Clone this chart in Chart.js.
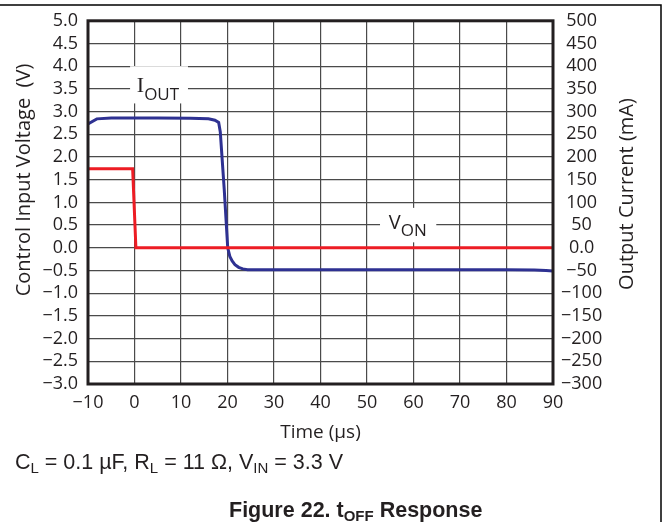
<!DOCTYPE html>
<html lang="en">
<head>
<meta charset="utf-8">
<title>tOFF Response</title>
<script src="https://cdn.jsdelivr.net/npm/chart.js"></script>
<style>
	html, body { margin: 0; padding: 0; background: #fff; }
	#wrap { width: 669px; height: 522px; }
</style>
</head>
<body>
<div id="wrap"><canvas id="myChart" width="669" height="522"></canvas></div>

<script>
// tick labels
const timeLabels = ['\u221210', '0', '10', '20', '30', '40', '50', '60', '70', '80', '90'];
const voltLabels = ['\u22123.0', '\u22122.5', '\u22122.0', '\u22121.5', '\u22121.0', '\u22120.5',
	'0.0', '0.5', '1.0', '1.5', '2.0', '2.5', '3.0', '3.5', '4.0', '4.5', '5.0'];
const currLabels = ['\u2212300', '\u2212250', '\u2212200', '\u2212150', '\u2212100', '\u221250',
	'0.0', '50', '100', '150', '200', '250', '300', '350', '400', '450', '500'];

// V_ON, control input voltage (V)
const vonTime = [-10, -0.4, 0.3, 90];
const vonVolt = [1.74, 1.74, 0, 0];

// I_OUT, output current (mA)
const ioutTime = [-10, -8.1, -5, 5, 12, 15.9, 17.3, 18.1, 18.45, 19.3, 20.05, 20.5, 21, 21.6, 22.4, 23.3, 24.3, 40, 60, 80, 86, 88.5, 90];
const ioutCurr = [273, 284, 286, 286, 285.5, 284, 281, 276, 255, 128, 0, -19, -29, -37, -43, -46.5, -48.5, -48.5, -48.5, -48.5, -49, -50, -51];

const vonPoints = vonTime.map((t, i) => ({ x: t, y: vonVolt[i] }));
const ioutPoints = ioutTime.map((t, i) => ({ x: t, y: ioutCurr[i] }));

const INK = '#231f20';
const TICK_FONT = { family: 'Open Sans', size: 18 };

// text with a subscript part
function subText(ctx, x, y, parts) {
	parts.forEach(p => {
		ctx.font = p.font;
		ctx.fillText(p.text, x, y + (p.dy || 0));
		x += ctx.measureText(p.text).width;
	});
	return x;
}

function vertText(ctx, text, x, y) {
	ctx.save();
	ctx.translate(x, y);
	ctx.rotate(-Math.PI / 2);
	ctx.font = '20px "Open Sans"';
	ctx.textAlign = 'center';
	ctx.textBaseline = 'middle';
	ctx.fillText(text, 0, 0);
	ctx.restore();
}

const decor = {
	id: 'decor',
	beforeDatasetsDraw(chart) {
		const ctx = chart.ctx;
		const xs = chart.scales.x, ys = chart.scales.y;
		ctx.save();
		ctx.fillStyle = '#fff';
		// I_OUT label box
		let bx = xs.getPixelForValue(-0.95), by = ys.getPixelForValue(4.0);
		ctx.fillRect(bx, by, xs.getPixelForValue(11.5) - bx, ys.getPixelForValue(3.18) - by);
		// V_ON label box
		bx = xs.getPixelForValue(52.8); by = ys.getPixelForValue(0.88);
		ctx.fillRect(bx, by, xs.getPixelForValue(64.9) - bx, ys.getPixelForValue(0.12) - by);

		ctx.fillStyle = INK;
		ctx.textBaseline = 'alphabetic';
		ctx.textAlign = 'left';
		subText(ctx, xs.getPixelForValue(0.5), ys.getPixelForValue(3.43), [
			{ text: 'I', font: '22px "Liberation Serif"' },
			{ text: 'OUT', font: '17px "Open Sans"', dy: 7.5 }
		]);
		subText(ctx, xs.getPixelForValue(54.7), ys.getPixelForValue(0.42), [
			{ text: 'V', font: '20px "Open Sans"' },
			{ text: 'ON', font: '17px "Open Sans"', dy: 7 }
		]);
		ctx.restore();
	},
	afterDatasetsDraw(chart) {
		const ctx = chart.ctx, a = chart.chartArea;
		ctx.save();
		ctx.strokeStyle = INK;
		ctx.lineWidth = 3;
		ctx.strokeRect(a.left, a.top, a.right - a.left, a.bottom - a.top);
		ctx.restore();
	},
	afterDraw(chart) {
		const ctx = chart.ctx;
		ctx.save();
		// page frame
		ctx.strokeStyle = '#000';
		ctx.lineWidth = 1.5;
		ctx.beginPath();
		ctx.moveTo(0, 5);
		ctx.lineTo(661, 5);
		ctx.lineTo(661, 522);
		ctx.stroke();

		ctx.fillStyle = INK;
		// axis titles, both read bottom to top
		vertText(ctx, 'Control Input Voltage  (V)', 24, 180);
		vertText(ctx, 'Output Current (mA)', 627, 194);

		ctx.textAlign = 'left';
		ctx.textBaseline = 'alphabetic';
		const f = '21.5px "Liberation Sans"', fs = '15px "Liberation Sans"';
		subText(ctx, 15, 469, [
			{ text: 'C', font: f }, { text: 'L', font: fs, dy: 4 },
			{ text: ' = 0.1 \u00b5F, R', font: f }, { text: 'L', font: fs, dy: 4 },
			{ text: ' = 11 \u03a9, V', font: f }, { text: 'IN', font: fs, dy: 4 },
			{ text: ' = 3.3 V', font: f }
		]);
		const fb = 'bold 21.5px "Liberation Sans"', fbs = 'bold 15px "Liberation Sans"';
		subText(ctx, 229, 517, [
			{ text: 'Figure 22. t', font: fb }, { text: 'OFF', font: fbs, dy: 4 },
			{ text: ' Response', font: fb }
		]);
		ctx.restore();
	}
};

const grid = { color: '#4a4a4a', lineWidth: 1.2, drawTicks: false };

const config = {
	type: 'line',
	data: {
		datasets: [
			{
				label: 'VON',
				data: vonPoints,
				yAxisID: 'y',
				borderColor: '#ed1c24',
				borderWidth: 3,
				pointRadius: 0,
				tension: 0
			},
			{
				label: 'IOUT',
				data: ioutPoints,
				yAxisID: 'y2',
				borderColor: '#2e3192',
				borderWidth: 3,
				pointRadius: 0,
				tension: 0
			}
		]
	},
	options: {
		responsive: false,
		animation: false,
		layout: { padding: { top: 20, left: 0, right: 0, bottom: 0 } },
		plugins: { legend: { display: false }, tooltip: { enabled: false } },
		scales: {
			x: {
				type: 'linear',
				min: -10,
				max: 90,
				grid: grid,
				border: { display: false },
				ticks: {
					stepSize: 10,
					color: INK,
					font: TICK_FONT,
					padding: 8,
					maxRotation: 0,
					autoSkip: false,
					callback: (v, i) => timeLabels[i]
				},
				title: {
					display: true,
					text: 'Time (\u00b5s)',
					color: INK,
					font: { family: 'Open Sans', size: 19 },
					padding: { top: 0, bottom: 78 }
				},
				afterFit: s => { s.height = 138; }
			},
			y: {
				position: 'left',
				min: -3,
				max: 5,
				grid: grid,
				border: { display: false },
				ticks: {
					stepSize: 0.5,
					color: INK,
					font: TICK_FONT,
					padding: 10,
					autoSkip: false,
					callback: (v, i) => voltLabels[i]
				},
				afterFit: s => { s.width = 88; }
			},
			y2: {
				position: 'right',
				min: -300,
				max: 500,
				grid: { display: false, drawTicks: false },
				border: { display: false },
				ticks: {
					stepSize: 50,
					color: INK,
					font: TICK_FONT,
					padding: 8,
					crossAlign: 'center',
					autoSkip: false,
					callback: (v, i) => currLabels[i]
				},
				afterFit: s => { s.width = 116; }
			}
		}
	},
	plugins: [decor]
};

const myChart = new Chart(document.getElementById('myChart'), config);
</script>
</body>
</html>
